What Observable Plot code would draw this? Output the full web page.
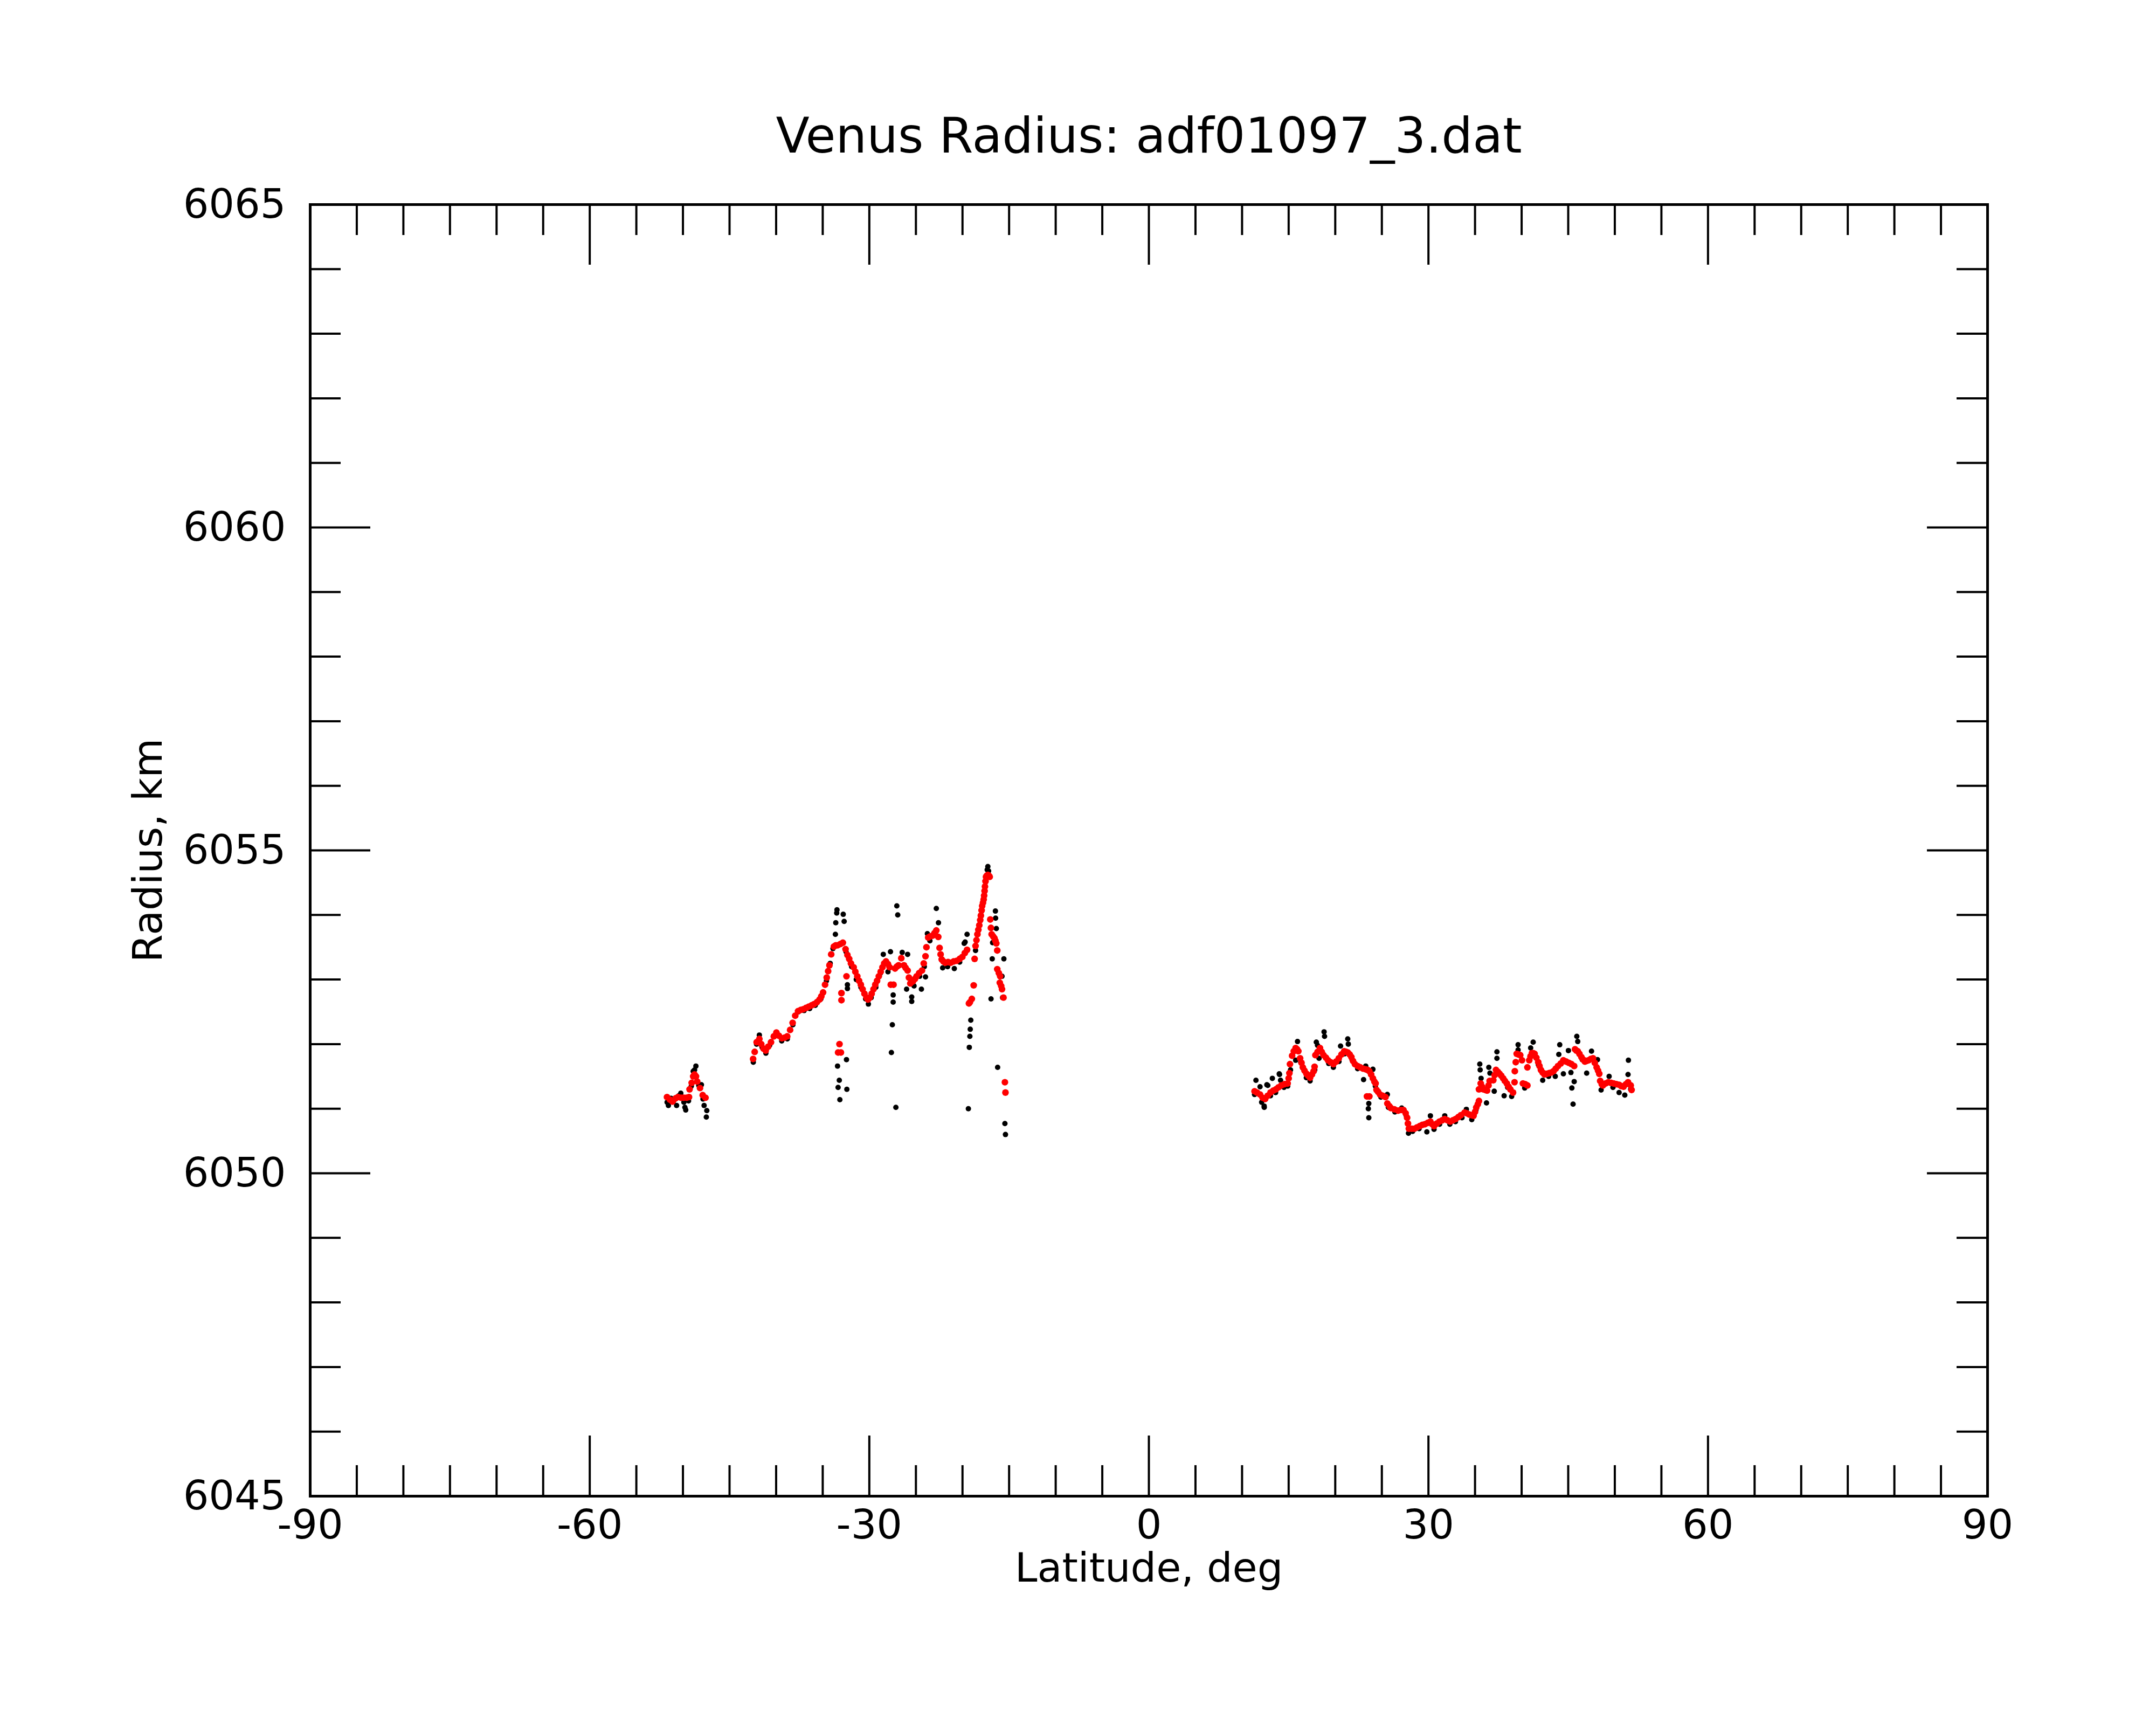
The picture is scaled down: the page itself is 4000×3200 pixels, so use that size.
<!DOCTYPE html>
<html>
<head>
<meta charset="utf-8">
<script src="https://cdn.jsdelivr.net/npm/d3@7"></script>
<script src="https://cdn.jsdelivr.net/npm/@observablehq/plot@0.6"></script>
<style>
  html, body { margin: 0; padding: 0; background: #fff; }
</style>
</head>
<body>
<div id="chart"></div>
<script>
// ---- Text ----
const chartTitle = "Venus Radius: adf01097_3.dat";
const xLabel = "Latitude, deg";
const yLabel = "Radius, km";

// ---- Axis ticks ----
const xMajorTicks = [-90, -60, -30, 0, 30, 60, 90];
const yMajorTicks = [6045, 6050, 6055, 6060, 6065];
const xMinorTicks = d3.range(-85, 90, 5).filter(v => v % 30 !== 0);
const yMinorTicks = d3.range(6046, 6065, 1).filter(v => v % 5 !== 0);

// ---- Data: smoothed radius (red) [latitude, radius] ----
const redSeg1 = [[-51.71,6051.18],[-51.4,6051.14],[-51.12,6051.11],[-50.8,6051.16],[-50.53,6051.18],[-50.2,6051.17],[-49.94,6051.17],[-49.6,6051.17],[-49.35,6051.18],[-49.29,6051.30],[-49.06,6051.40],[-48.9,6051.50],[-48.76,6051.53],[-48.6,6051.50],[-48.47,6051.42],[-48.17,6051.32],[-47.88,6051.21],[-47.58,6051.17]];

const redSeg2 = [[-42.47,6051.77],[-42.3,6051.88],[-42.09,6052.03],[-41.8,6052.08],[-41.6,6052.0],[-41.35,6051.93],[-41.12,6051.90],[-40.85,6051.96],[-40.55,6052.03],[-40.25,6052.12],[-39.97,6052.18],[-39.7,6052.13],[-39.39,6052.09],[-39.1,6052.10],[-38.81,6052.12],[-38.5,6052.22],[-38.23,6052.33],[-37.95,6052.44],[-37.65,6052.51],[-37.35,6052.53],[-37.08,6052.54],[-36.8,6052.56],[-36.5,6052.58],[-36.2,6052.60],[-35.92,6052.62],[-35.62,6052.65],[-35.34,6052.69],[-35.15,6052.74],[-34.96,6052.80],[-34.75,6052.92],[-34.57,6053.03],[-34.42,6053.13],[-34.28,6053.22],[-34.09,6053.39],[-33.8,6053.51],[-33.6,6053.53],[-33.41,6053.53],[-33.1,6053.55],[-32.84,6053.57],[-32.55,6053.47],[-32.35,6053.38],[-32.16,6053.32],[-31.97,6053.25],[-31.68,6053.19],[-31.5,6053.12],[-31.29,6053.05],[-31.1,6052.98],[-30.91,6052.92],[-30.72,6052.85],[-30.52,6052.78],[-30.3,6052.72],[-30.14,6052.69],[-29.95,6052.72],[-29.75,6052.78],[-29.55,6052.85],[-29.36,6052.92],[-29.17,6052.98],[-28.98,6053.05],[-28.78,6053.12],[-28.59,6053.19],[-28.4,6053.25],[-28.21,6053.28],[-28.0,6053.24],[-27.82,6053.19],[-27.24,6053.17],[-27.05,6053.20],[-26.86,6053.22],[-26.57,6053.33],[-26.28,6053.22],[-26.1,6053.18],[-25.89,6053.14],[-25.75,6053.03],[-25.6,6052.94],[-25.32,6052.97],[-25.1,6053.01],[-24.93,6053.05],[-24.65,6053.10],[-24.35,6053.14],[-24.16,6053.25],[-23.97,6053.36],[-23.87,6053.50],[-23.68,6053.65],[-23.45,6053.67],[-23.2,6053.68],[-23.0,6053.72],[-22.81,6053.76],[-22.6,6053.66],[-22.46,6053.49],[-22.35,6053.39],[-22.23,6053.31],[-22.05,6053.28],[-21.85,6053.26],[-21.55,6053.27],[-21.27,6053.26],[-20.95,6053.28],[-20.63,6053.29],[-20.3,6053.32],[-20.02,6053.35],[-19.75,6053.41],[-19.51,6053.46],[-18.6,6053.52],[-18.5,6053.61],[-18.4,6053.70],[-18.3,6053.77],[-18.2,6053.84],[-18.1,6053.92],[-18.03,6053.99],[-17.95,6054.07],[-17.89,6054.14],[-17.8,6054.19],[-17.73,6054.24],[-17.68,6054.30],[-17.63,6054.37],[-17.59,6054.44],[-17.53,6054.52],[-17.48,6054.59],[-17.38,6054.61],[-17.28,6054.62],[-17.18,6054.61],[-17.08,6054.59],[-17.02,6053.93],[-16.95,6053.80],[-16.87,6053.70],[-16.72,6053.67],[-16.57,6053.64],[-16.47,6053.60],[-16.37,6053.56],[-16.27,6053.45],[-16.27,6053.16],[-16.1,6053.10],[-15.96,6053.05],[-16.0,6052.95],[-15.85,6052.90],[-15.76,6052.85],[-15.6,6052.72]];

const redSeg2Outliers = [[-32.99,6052.79],[-32.99,6052.68],[-32.45,6053.05],[-33.2,6052.00],[-33.35,6051.87],[-33.05,6051.87],[-27.7,6052.92],[-27.4,6052.92],[-18.7,6053.32],[-18.8,6052.91],[-19.0,6052.70],[-19.2,6052.65],[-19.31,6052.63],[-15.45,6051.41],[-15.39,6051.25]];

const redSeg3 = [[11.34,6051.27],[11.6,6051.25],[11.93,6051.22],[12.2,6051.17],[12.48,6051.15],[12.75,6051.20],[13.05,6051.25],[13.35,6051.28],[13.63,6051.30],[13.9,6051.33],[14.21,6051.36],[14.55,6051.38],[14.89,6051.39],[15.0,6051.47],[15.08,6051.55],[15.14,6051.69],[15.37,6051.82],[15.55,6051.89],[15.75,6051.94],[15.9,6051.92],[16.04,6051.89],[16.23,6051.78],[16.38,6051.71],[16.52,6051.64],[16.7,6051.59],[16.91,6051.54],[17.1,6051.51],[17.30,6051.48],[17.5,6051.53],[17.68,6051.58],[17.78,6051.65],[17.87,6051.83],[18.1,6051.88],[18.36,6051.94],[18.55,6051.88],[18.74,6051.83],[19.0,6051.79],[19.22,6051.75],[19.5,6051.72],[19.8,6051.69],[20.1,6051.73],[20.38,6051.78],[20.67,6051.84],[20.96,6051.89],[21.15,6051.88],[21.34,6051.87],[21.55,6051.84],[21.73,6051.80],[21.9,6051.74],[22.11,6051.69],[22.4,6051.66],[22.69,6051.64],[22.98,6051.62],[23.27,6051.61],[23.47,6051.60],[23.66,6051.58],[23.85,6051.53],[24.04,6051.47],[24.2,6051.42],[24.33,6051.39],[24.43,6051.29],[24.6,6051.26],[24.81,6051.22],[25.1,6051.20],[25.39,6051.18],[25.59,6051.08],[25.8,6051.04],[25.97,6051.01],[26.35,6050.99],[26.74,6050.97],[27.05,6050.98],[27.32,6050.98],[27.55,6050.93],[27.71,6050.86],[27.8,6050.77],[27.9,6050.69],[28.2,6050.69],[28.48,6050.69],[28.77,6050.71],[29.06,6050.73],[29.35,6050.75],[29.63,6050.76],[29.92,6050.78],[30.21,6050.80],[30.4,6050.76],[30.6,6050.73],[30.9,6050.77],[31.18,6050.80],[31.47,6050.82],[31.75,6050.84],[32.05,6050.82],[32.33,6050.80],[32.62,6050.82],[32.91,6050.84],[33.2,6050.87],[33.49,6050.90],[33.88,6050.94],[34.1,6050.93],[34.36,6050.91],[34.6,6050.90],[34.84,6050.89],[35.0,6050.95],[35.13,6051.02],[35.3,6051.07],[35.42,6051.12],[35.42,6051.30],[35.61,6051.39],[35.75,6051.34],[35.9,6051.30],[36.1,6051.29],[36.29,6051.28],[36.45,6051.36],[36.57,6051.43],[36.96,6051.44],[37.1,6051.52],[37.25,6051.60],[37.45,6051.57],[37.63,6051.54],[37.82,6051.51],[38.02,6051.47],[38.2,6051.43],[38.41,6051.39],[38.6,6051.34],[38.79,6051.30],[39.08,6051.25],[39.24,6051.41],[39.27,6051.58],[39.37,6051.72],[39.47,6051.85],[39.65,6051.84],[39.85,6051.83],[40.04,6051.75],[40.14,6051.39],[40.38,6051.38],[40.62,6051.36],[40.62,6051.64],[40.82,6051.75],[40.95,6051.81],[41.1,6051.86],[41.25,6051.86],[41.39,6051.85],[41.58,6051.79],[41.78,6051.72],[41.92,6051.66],[42.07,6051.60],[42.25,6051.56],[42.45,6051.53],[42.7,6051.54],[42.94,6051.55],[43.18,6051.56],[43.42,6051.58],[43.66,6051.62],[43.9,6051.66],[44.2,6051.70],[44.48,6051.75],[44.77,6051.73],[45.06,6051.71],[45.35,6051.69],[45.64,6051.66],[45.73,6051.92],[45.87,6051.90],[46.02,6051.89],[46.2,6051.85],[46.41,6051.80],[46.6,6051.76],[46.79,6051.73],[46.98,6051.74],[47.18,6051.75],[47.42,6051.77],[47.66,6051.78],[47.85,6051.71],[48.05,6051.64],[48.2,6051.59],[48.33,6051.54],[48.43,6051.43],[48.6,6051.38],[48.72,6051.36],[49.0,6051.39],[49.3,6051.41],[49.6,6051.40],[49.88,6051.39],[50.17,6051.38],[50.46,6051.37],[50.7,6051.35],[50.94,6051.34],[51.2,6051.38],[51.42,6051.41],[51.71,6051.36],[51.8,6051.29],[23.4,6051.19],[23.66,6051.19]];

// ---- Data: raw radius (black) [latitude, radius] ----
const blackSeg1 = [[-51.7,6051.10],[-51.56,6051.05],[-51.27,6051.16],[-51.0,6051.12],[-50.68,6051.05],[-50.45,6051.20],[-50.23,6051.24],[-49.9,6051.10],[-49.79,6051.02],[-49.7,6050.98],[-49.4,6051.12],[-49.1,6051.35],[-48.9,6051.58],[-48.75,6051.60],[-48.61,6051.66],[-48.3,6051.36],[-48.02,6051.37],[-47.85,6051.15],[-47.73,6051.05],[-47.44,6050.97],[-47.49,6050.87]];

const blackSeg2 = [[-42.45,6051.72],[-42.1,6052.00],[-41.8,6052.14],[-41.5,6051.95],[-41.1,6051.86],[-40.7,6051.98],[-40.0,6052.15],[-39.4,6052.05],[-38.8,6052.08],[-38.2,6052.30],[-37.6,6052.50],[-37.0,6052.52],[-36.4,6052.55],[-35.8,6052.60],[-35.2,6052.70],[-34.6,6052.98],[-34.2,6053.25],[-33.9,6053.48],[-33.47,6054.08],[-33.50,6054.03],[-32.8,6054.01],[-33.6,6053.88],[-32.7,6053.90],[-33.64,6053.70],[-32.5,6053.43],[-32.35,6052.92],[-32.35,6052.86],[-31.9,6053.20],[-31.4,6053.00],[-30.9,6052.88],[-30.4,6052.70],[-30.1,6052.62],[-29.8,6052.72],[-29.3,6052.88],[-28.8,6053.10],[-28.5,6053.39],[-27.73,6053.43],[-28.0,6053.12],[-27.44,6052.76],[-27.44,6052.65],[-27.53,6052.30],[-27.63,6051.87],[-27.15,6051.02],[-27.05,6054.14],[-26.95,6054.00],[-26.47,6053.42],[-25.89,6053.39],[-26.0,6052.85],[-25.45,6052.73],[-25.45,6052.66],[-25.2,6052.90],[-24.41,6052.85],[-24.6,6053.05],[-23.97,6053.04],[-24.1,6053.20],[-23.77,6053.71],[-23.5,6053.60],[-22.81,6054.10],[-22.58,6053.88],[-22.9,6053.70],[-22.13,6053.18],[-21.6,6053.20],[-20.88,6053.17],[-20.3,6053.27],[-19.82,6053.56],[-19.72,6053.58],[-19.51,6053.70],[-19.11,6052.37],[-19.17,6052.23],[-19.21,6052.12],[-19.27,6051.95],[-19.37,6051.00],[-17.28,6054.75],[-17.35,6054.70],[-17.2,6054.68],[-16.47,6054.06],[-16.45,6053.95],[-16.37,6053.79],[-16.77,6053.57],[-16.81,6053.32],[-15.56,6053.32],[-16.94,6052.70],[-15.76,6053.05],[-15.7,6052.72],[-16.23,6051.64],[-15.45,6050.77],[-15.39,6050.60],[-33.41,6051.66],[-32.45,6051.76],[-33.22,6051.44],[-33.35,6051.33],[-32.41,6051.30],[-33.16,6051.14],[-18.6,6053.45]];

const blackSeg3 = [[11.34,6051.22],[11.49,6051.44],[11.93,6051.34],[12.1,6051.10],[12.37,6051.04],[12.38,6051.02],[12.66,6051.37],[12.76,6051.36],[13.05,6051.20],[13.25,6051.47],[13.6,6051.25],[13.99,6051.54],[14.02,6051.53],[14.13,6051.44],[14.5,6051.33],[14.9,6051.35],[15.2,6051.60],[15.6,6051.90],[15.95,6052.04],[15.75,6051.75],[16.3,6051.72],[16.9,6051.48],[17.3,6051.43],[17.8,6051.60],[17.97,6052.03],[18.1,6051.98],[18.26,6051.78],[18.8,6052.19],[18.85,6052.12],[19.3,6051.70],[19.8,6051.64],[20.4,6051.73],[20.57,6051.97],[21.0,6051.85],[21.34,6052.08],[21.4,6052.00],[21.8,6051.76],[22.4,6051.62],[23.04,6051.45],[23.27,6051.66],[23.6,6051.08],[23.6,6050.86],[23.55,6051.00],[24.04,6051.61],[24.3,6051.35],[24.9,6051.18],[25.59,6051.22],[25.7,6051.02],[26.4,6050.95],[27.13,6051.01],[27.6,6050.90],[27.86,6050.62],[28.3,6050.65],[29.0,6050.69],[29.83,6050.64],[30.21,6050.89],[30.6,6050.68],[31.2,6050.76],[31.75,6050.89],[32.3,6050.76],[32.9,6050.80],[33.6,6050.86],[34.07,6050.99],[34.65,6050.83],[35.1,6050.98],[35.51,6051.69],[35.55,6051.60],[35.65,6051.47],[36.23,6051.09],[36.48,6051.64],[36.6,6051.55],[37.06,6051.27],[37.35,6051.88],[37.35,6051.78],[38.12,6051.20],[38.5,6051.33],[38.93,6051.19],[39.62,6051.99],[39.62,6051.91],[40.33,6051.32],[40.97,6051.94],[41.24,6052.03],[41.8,6051.68],[42.26,6051.44],[42.9,6051.50],[43.61,6051.50],[43.99,6051.84],[44.09,6051.99],[44.48,6051.54],[45.02,6051.90],[45.29,6051.56],[45.64,6051.42],[45.39,6051.32],[45.52,6051.07],[45.92,6052.12],[46.02,6052.04],[46.5,6051.76],[46.98,6051.55],[47.5,6051.89],[48.14,6051.76],[48.53,6051.29],[49.39,6051.50],[49.8,6051.33],[50.46,6051.25],[51.07,6051.21],[51.42,6051.53],[51.46,6051.75],[51.7,6051.30]];

const blackPoints = [...blackSeg1, ...blackSeg2, ...blackSeg3];
const redPoints = [...redSeg1, ...redSeg2, ...redSeg2Outliers, ...redSeg3];

// ---- Layout ----
const W = 4000, H = 3200;
const mTop = 379, mRight = 313, mBottom = 425, mLeft = 575;
const innerW = W - mLeft - mRight;
const innerH = H - mTop - mBottom;
const minorLen = 57, majorLen = 112;
const tickW = 4;

const chart = Plot.plot({
  width: W,
  height: H,
  marginTop: mTop,
  marginRight: mRight,
  marginBottom: mBottom,
  marginLeft: mLeft,
  style: { fontFamily: "DejaVu Sans", fontSize: "75px", background: "#fff", color: "#000", overflow: "visible" },
  x: { domain: [-90, 90] },
  y: { domain: [6045, 6065] },
  marks: [
    // data
    Plot.dot(blackPoints, { x: d => d[0], y: d => d[1], r: 5, fill: "#000", stroke: "none" }),
    Plot.dot(redPoints, { x: d => d[0], y: d => d[1], r: 6.2, fill: "#ff0000", stroke: "none" }),
    // inward ticks, bottom & top
    Plot.tickX(xMinorTicks, { x: d => d, insetTop: innerH - minorLen, stroke: "#000", strokeWidth: tickW }),
    Plot.tickX(xMinorTicks, { x: d => d, insetBottom: innerH - minorLen, stroke: "#000", strokeWidth: tickW }),
    Plot.tickX(xMajorTicks, { x: d => d, insetTop: innerH - majorLen, stroke: "#000", strokeWidth: tickW }),
    Plot.tickX(xMajorTicks, { x: d => d, insetBottom: innerH - majorLen, stroke: "#000", strokeWidth: tickW }),
    // inward ticks, left & right
    Plot.tickY(yMinorTicks, { y: d => d, insetRight: innerW - minorLen, stroke: "#000", strokeWidth: tickW }),
    Plot.tickY(yMinorTicks, { y: d => d, insetLeft: innerW - minorLen, stroke: "#000", strokeWidth: tickW }),
    Plot.tickY(yMajorTicks, { y: d => d, insetRight: innerW - majorLen, stroke: "#000", strokeWidth: tickW }),
    Plot.tickY(yMajorTicks, { y: d => d, insetLeft: innerW - majorLen, stroke: "#000", strokeWidth: tickW }),
    // tick labels
    Plot.axisX({ anchor: "bottom", ticks: xMajorTicks, tickSize: 0, tickPadding: 25, tickFormat: d => String(d), label: null, fontSize: 75 }),
    Plot.axisY({ anchor: "left", ticks: yMajorTicks, tickSize: 0, tickPadding: 45, tickFormat: d => String(d), label: null, fontSize: 75 }),
    // frame
    Plot.frame({ stroke: "#000", strokeWidth: 5 }),
    // titles
    Plot.text([chartTitle], { frameAnchor: "top", dy: -97, lineAnchor: "bottom", text: d => d, fontSize: 91, fill: "#000" }),
    Plot.text([xLabel], { frameAnchor: "bottom", dy: 158, lineAnchor: "bottom", text: d => d, fontSize: 75, fill: "#000" }),
    Plot.text([yLabel], { frameAnchor: "left", dx: -300, rotate: -90, textAnchor: "middle", lineAnchor: "middle", text: d => d, fontSize: 75, fill: "#000" })
  ]
});

document.getElementById("chart").appendChild(chart);
</script>
</body>
</html>
